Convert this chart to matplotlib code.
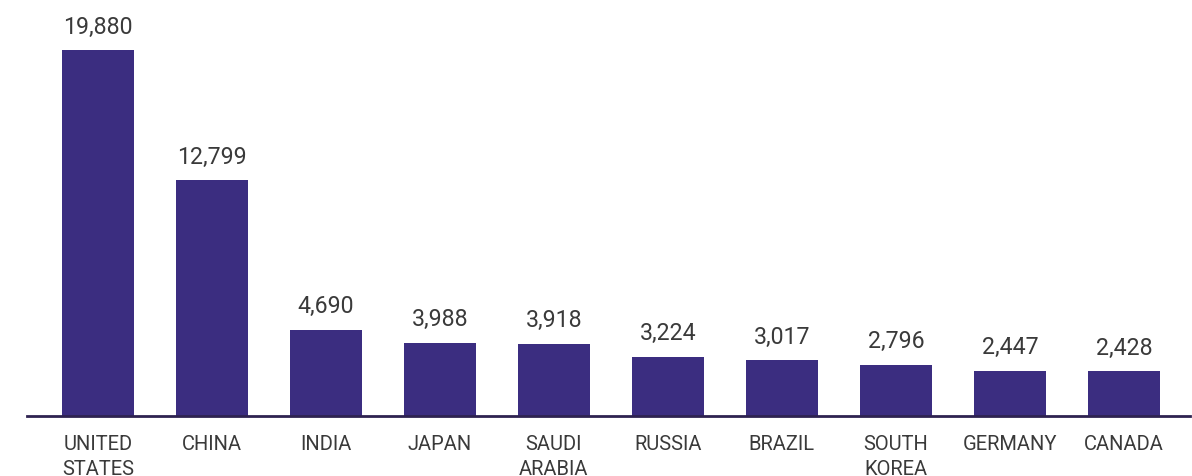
import matplotlib.pyplot as plt

countries = ['UNITED\nSTATES', 'CHINA', 'INDIA', 'JAPAN', 'SAUDI\nARABIA',
             'RUSSIA', 'BRAZIL', 'SOUTH\nKOREA', 'GERMANY', 'CANADA']
values = [19880, 12799, 4690, 3988, 3918, 3224, 3017, 2796, 2447, 2428]

plt.rcParams['font.family'] = ['Roboto', 'DejaVu Sans']

fig = plt.figure(figsize=(11.92, 4.77), dpi=100)
ax = fig.add_axes([27 / 1192, 60 / 477, (1190 - 27) / 1192, 417 / 477])

x = range(len(countries))
bars = ax.bar(x, values, width=0.63, color='#3b2d80', zorder=2)

for b, v in zip(bars, values):
    ax.annotate(f'{v:,}', (b.get_x() + b.get_width() / 2, v),
                xytext=(0, 9), textcoords='offset points',
                ha='center', va='bottom', fontsize=16.7,
                color='#3a3a3a')

ax.set_xlim(-0.623, 9.58)
ax.set_ylim(0, 19880 * 417 / 366)
ax.set_xticks(list(x))
ax.set_xticklabels(countries, fontsize=14.5,
                   color='#3a3a3a', linespacing=1.38, va='top')
ax.tick_params(axis='x', length=0, pad=13)
ax.set_yticks([])

for s in ['top', 'right', 'left']:
    ax.spines[s].set_visible(False)
ax.spines['bottom'].set_color('#2e2250')
ax.spines['bottom'].set_linewidth(2)

fig.savefig('out.png', dpi=100)
